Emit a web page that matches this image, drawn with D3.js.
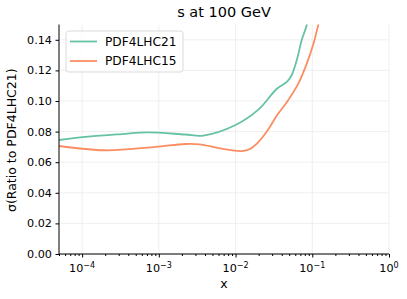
<!DOCTYPE html>
<html>
<head>
<meta charset="utf-8">
<script src="https://cdn.jsdelivr.net/npm/d3@7"></script>
<style>
  body { margin: 0; background: #fff; }
  svg { font-family: "DejaVu Sans", sans-serif; }
</style>
</head>
<body>
<div id="chart"></div>
<script>
// values
const xs21 = [5e-5, 1.2e-4, 3.3e-4, 7.2e-4, 2.2e-3, 3.8e-3, 1e-2, 2e-2, 3.45e-2, 4.7e-2, 5.4e-2, 6.3e-2, 7.3e-2, 8.5e-2, 0.1];
const ys21 = [0.0745, 0.0767, 0.0784, 0.0795, 0.0781, 0.0774, 0.0843, 0.0945, 0.108, 0.1126, 0.117, 0.127, 0.140, 0.150, 0.175];
const xs15 = [5e-5, 2e-4, 9e-4, 2.2e-3, 3.4e-3, 6.3e-3, 1.2e-2, 1.55e-2, 1.9e-2, 2.3e-2, 2.8e-2, 3.45e-2, 4.7e-2, 6.6e-2, 8.5e-2, 0.104, 0.12, 0.14];
const ys15 = [0.0706, 0.0678, 0.0700, 0.0719, 0.0717, 0.069, 0.0673, 0.0686, 0.0722, 0.0770, 0.0830, 0.0905, 0.0995, 0.1115, 0.1246, 0.1377, 0.150, 0.165];
const seriesNames = ["PDF4LHC21", "PDF4LHC15"];
const colors = ["#66c2a5", "#fc8d62"];
const yTicks = [0, 0.02, 0.04, 0.06, 0.08, 0.10, 0.12, 0.14];
const xTicks = [1e-4, 1e-3, 1e-2, 1e-1, 1];

const W = 407, H = 299;
const pLeft = 59, pRight = 389, pTop = 24.5, pBottom = 254;

const x = d3.scaleLog().domain([5e-5, 1]).range([pLeft, pRight]);
const y = d3.scaleLinear().domain([0, 0.15]).range([pBottom, pTop]);

const svg = d3.select("#chart").append("svg")
  .attr("width", W).attr("height", H);

svg.append("defs").append("clipPath").attr("id", "clip")
  .append("rect").attr("x", pLeft).attr("y", pTop)
  .attr("width", pRight - pLeft).attr("height", pBottom - pTop);

// grid
svg.append("g").selectAll("line").data(xTicks).join("line")
  .attr("x1", d => x(d)).attr("x2", d => x(d))
  .attr("y1", pTop).attr("y2", pBottom)
  .attr("stroke", "#ebebeb").attr("stroke-width", 0.8);
svg.append("g").selectAll("line").data(yTicks).join("line")
  .attr("x1", pLeft).attr("x2", pRight)
  .attr("y1", d => y(d)).attr("y2", d => y(d))
  .attr("stroke", "#ebebeb").attr("stroke-width", 0.8);

// curves
const line = d3.line().x(d => x(d[0])).y(d => y(d[1])).curve(d3.curveCatmullRom.alpha(0.5));
const series = [d3.zip(xs21, ys21), d3.zip(xs15, ys15)];
svg.append("g").attr("clip-path", "url(#clip)")
  .selectAll("path").data(series).join("path")
  .attr("fill", "none")
  .attr("stroke", (d, i) => colors[i])
  .attr("stroke-width", 1.8)
  .attr("d", line);

// y axis
const yAxis = svg.append("g").attr("transform", `translate(${pLeft},0)`)
  .call(d3.axisLeft(y).tickValues(yTicks).tickFormat(d3.format(".2f")).tickSize(3.5).tickPadding(3.5));
yAxis.select(".domain").attr("stroke", "#000").attr("stroke-width", 1)
  .attr("d", `M0,${pBottom}V${pTop}`);
yAxis.selectAll("text").attr("font-size", 11.2).attr("fill", "#000").attr("font-family", "DejaVu Sans");

// x axis
const minor = [];
for (let e = -5; e < 0; e++) for (let m = 2; m <= 9; m++) {
  const v = m * Math.pow(10, e);
  if (v >= 5e-5 && v <= 1) minor.push(v);
}
const xg = svg.append("g").attr("transform", `translate(0,${pBottom})`);
xg.call(d3.axisBottom(x).tickValues(minor).tickFormat("").tickSize(2).tickSizeOuter(0));
xg.select(".domain").remove();
const xAxis = svg.append("g").attr("transform", `translate(0,${pBottom})`)
  .call(d3.axisBottom(x).tickValues(xTicks).tickFormat("").tickSize(3.5).tickSizeOuter(0));
xAxis.select(".domain").attr("stroke", "#000").attr("d", `M${pLeft},0H${pRight}`);

const xl = svg.append("g").selectAll("text").data(xTicks).join("text")
  .attr("x", d => x(d)).attr("y", 272)
  .attr("text-anchor", "middle").attr("font-size", 11.2).attr("fill", "#000");
xl.append("tspan").text("10");
xl.append("tspan").attr("dy", -4.5).attr("font-size", 8).text(d => Math.round(Math.log10(d)) === 0 ? "0" : "\u2212" + Math.abs(Math.round(Math.log10(d))));

// labels
svg.append("text").attr("x", (pLeft + pRight) / 2).attr("y", 17)
  .attr("text-anchor", "middle").attr("font-size", 14.5).text("s at 100 GeV");
svg.append("text").attr("x", (pLeft + pRight) / 2).attr("y", 288)
  .attr("text-anchor", "middle").attr("font-size", 12.5).text("x");
svg.append("text").attr("transform", `translate(16,${(pTop + pBottom) / 2 + 1}) rotate(-90)`)
  .attr("text-anchor", "middle").attr("font-size", 12.5).text("σ(Ratio to PDF4LHC21)");

// legend
const lg = svg.append("g");
lg.append("rect").attr("x", 66).attr("y", 31).attr("width", 117).attr("height", 41)
  .attr("rx", 2.5).attr("fill", "#fff").attr("fill-opacity", 0.8)
  .attr("stroke", "#d0d0d0").attr("stroke-width", 0.8);
const items = lg.selectAll("g").data(seriesNames).join("g")
  .attr("transform", (d, i) => `translate(0,${41.5 + i * 19.5})`);
items.append("line").attr("x1", 70).attr("x2", 97)
  .attr("stroke", (d, i) => colors[i]).attr("stroke-width", 1.8);
items.append("text").attr("x", 105).attr("y", 4.3).attr("font-size", 12.2).text(d => d);
</script>
</body>
</html>
